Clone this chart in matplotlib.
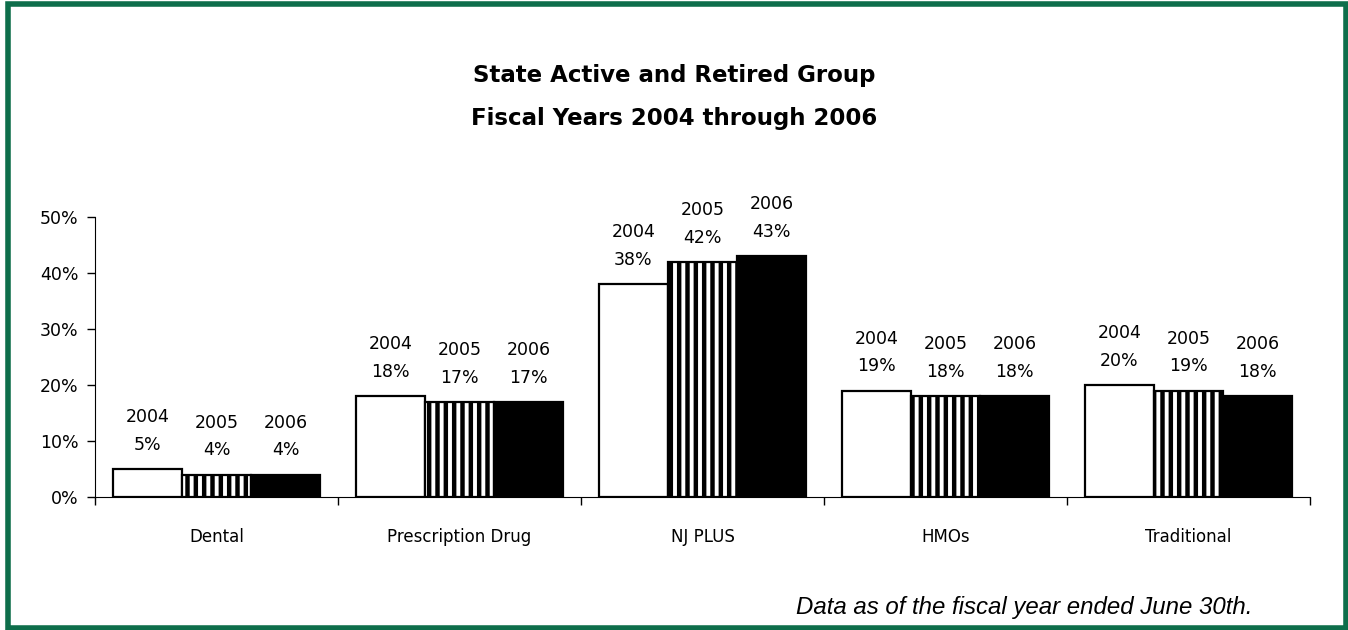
import numpy as np
import matplotlib.pyplot as plt
from matplotlib.patches import Rectangle

plt.rcParams['font.family'] = ['DejaVu Sans']
plt.rcParams['hatch.linewidth'] = 3.2

# Data
categories = ['Dental', 'Prescription Drug', 'NJ PLUS', 'HMOs', 'Traditional']
years = ['2004', '2005', '2006']
share_2004 = [5, 18, 38, 19, 20]
share_2005 = [4, 17, 42, 18, 19]
share_2006 = [4, 17, 43, 18, 18]
yticks = [0, 10, 20, 30, 40, 50]

fig = plt.figure(figsize=(13.48, 6.3), dpi=100)
ax = fig.add_axes([0.0705, 0.2111, 0.9013, 0.4444])

x = np.arange(len(categories))
w = 0.285
series = [share_2004, share_2005, share_2006]
styles = [dict(facecolor='white', hatch=None),
          dict(facecolor='white', hatch='||'),
          dict(facecolor='black', hatch=None)]

for i, (vals, st) in enumerate(zip(series, styles)):
    xs = x + (i - 1) * w
    ax.bar(xs, vals, width=w, edgecolor='black', linewidth=1.6, **st)
    for xi, v in zip(xs, vals):
        ax.annotate(f'{years[i]}\n{v}%', (xi, v), xytext=(0, 11),
                    textcoords='offset points', ha='center', va='bottom',
                    fontsize=12.5, linespacing=1.7)

ax.set_xlim(-0.5, len(categories) - 0.5)
ax.set_ylim(0, 50)
ax.set_yticks(yticks)
ax.set_yticklabels([f'{t}%' for t in yticks], fontsize=12.5)
ax.set_xticks(x)
ax.set_xticklabels(categories, fontsize=12)
ax.set_xticks(np.arange(len(categories) + 1) - 0.5, minor=True)
ax.tick_params(axis='x', which='major', length=0, pad=22)
ax.tick_params(axis='x', which='minor', length=6, width=1)
ax.tick_params(axis='y', length=6, width=1, pad=6)
for s in ['top', 'right']:
    ax.spines[s].set_visible(False)

fig.text(0.5, 0.88, 'State Active and Retired Group', ha='center', va='center',
         fontsize=16.5, fontweight='bold')
fig.text(0.5, 0.812, 'Fiscal Years 2004 through 2006', ha='center', va='center',
         fontsize=16.5, fontweight='bold')
fig.text(0.929, 0.035, 'Data as of the fiscal year ended June 30th.', ha='right',
         va='center', fontsize=17.3, style='italic', family='Liberation Sans')

fig.patches.append(Rectangle((7.5 / 1348, 2.5 / 630), 1338 / 1348, 624 / 630,
                             transform=fig.transFigure, fill=False,
                             edgecolor='#0E6E4B', linewidth=4))

fig.savefig('out.png', dpi=100)
